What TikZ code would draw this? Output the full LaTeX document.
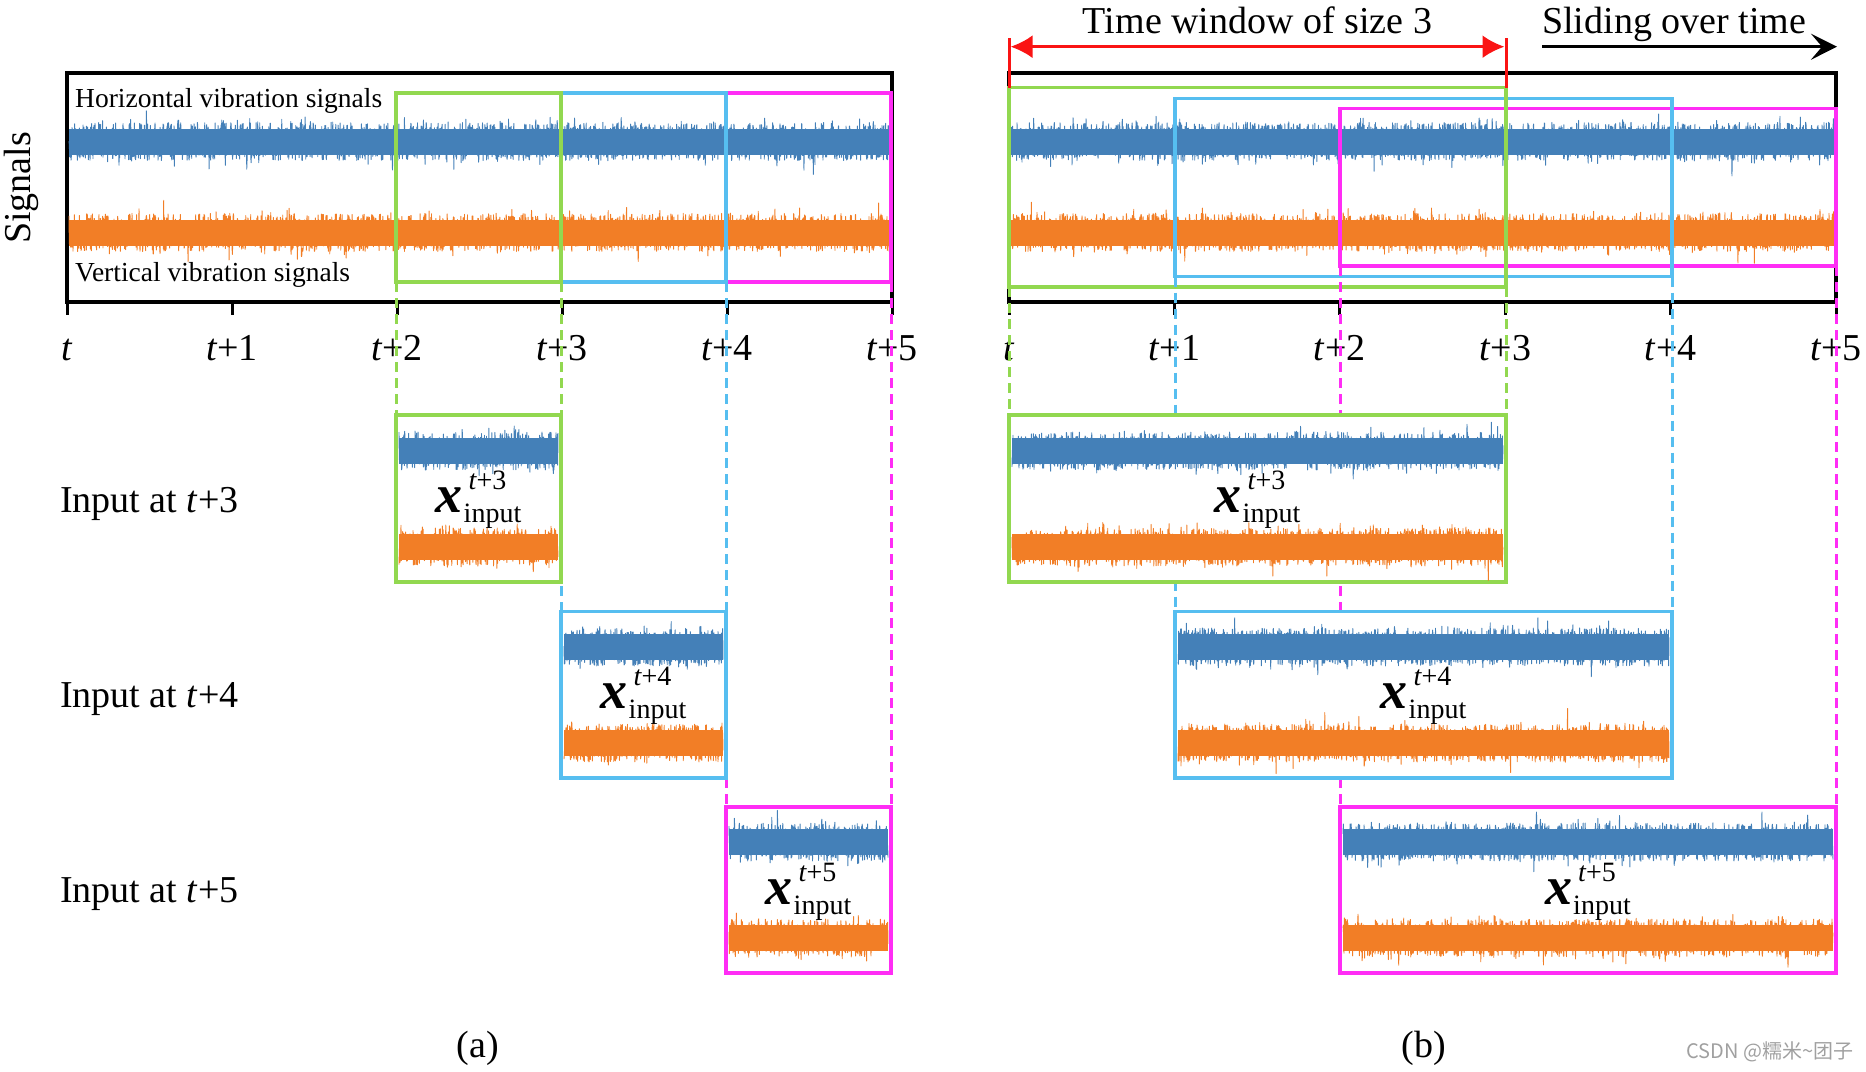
\documentclass[tikz,border=0pt]{standalone}
\usepackage{fontspec}
\setmainfont{Liberation Serif}
\newfontfamily\cjkfont{Noto Sans CJK SC}
\usetikzlibrary{arrows.meta}
\definecolor{sigblue}{RGB}{68,128,184}
\definecolor{sigorange}{RGB}{242,126,38}
\definecolor{wgreen}{RGB}{146,216,80}
\definecolor{wblue}{RGB}{86,190,240}
\definecolor{wmag}{RGB}{255,45,245}
\definecolor{wred}{RGB}{250,20,20}
\definecolor{wmark}{RGB}{160,160,160}
\newcommand{\ftL}{\fontsize{38}{44}\selectfont}
\newcommand{\ftM}{\fontsize{27.5}{30}\selectfont}
\newcommand{\sigband}[4]{%
  \pgfmathtruncatemacro{\ns}{(#2-#1)*3}%
  \fill[#4] (#1,#3-13) rectangle (#2,#3+13);%
  \draw[#4, line width=0.9pt, line join=round] plot[domain=#1:#2, samples=\ns]
    (\x,{#3+19*rand+(rnd>0.8)*7*rand+(rnd>0.97)*15*rand});%
}
\newcommand{\xin}[1]{{\fontsize{54}{54}\selectfont\bfseries\itshape x}\kern1pt\rlap{\kern5pt\raisebox{23pt}{\fontsize{28}{28}\selectfont\itshape t\upshape+#1}}\raisebox{-10pt}{\fontsize{28}{28}\selectfont input}}
\pgfdeclarelayer{front}
\pgfsetlayers{main,front}
\begin{document}
\begin{tikzpicture}[x=1pt,y=-1pt,
  frame/.style={draw=black, line width=4pt},
  tickln/.style={black, line width=3pt},
  winbox/.style={draw, line width=3.5pt, inner sep=0pt, outer sep=0pt},
  inbox/.style={draw, fill=white, line width=3.5pt, inner sep=0pt, outer sep=0pt},
  dashln/.style={line width=3pt, dash pattern=on 10pt off 6pt},
  ticklab/.style={anchor=base, font=\ftL, inner sep=0pt},
  biglab/.style={font=\ftL, inner sep=0pt},
  ]
\pgfmathsetseed{7}
\useasboundingbox (0,0) rectangle (1866,1071);

% ---------- frames and axes ----------
\draw[frame] (67,72.5) rectangle (891.5,302);
\draw[frame] (1009,72.5) rectangle (1836,302);
\foreach \k in {0,...,5} {
  \draw[tickln] (67+165*\k,302) -- (67+165*\k,315);
  \draw[tickln] (1009+165.4*\k,302) -- (1009+165.4*\k,315);
}

% ---------- top signals ----------
\sigband{69}{889}{141.5}{sigblue}
\sigband{69}{889}{232.5}{sigorange}
\sigband{1011}{1834}{141.5}{sigblue}
\sigband{1011}{1834}{232.5}{sigorange}

\node[anchor=base west, font=\ftM, inner sep=0pt] (hlab) at (75,107) {Horizontal vibration signals};
\node[anchor=base west, font=\ftM, inner sep=0pt] (vlab) at (75,281) {Vertical vibration signals};

% ---------- windows ----------
\node[winbox, draw=wmag,   minimum width=165pt, minimum height=189pt] (wa5) at (808.5,187.5) {};
\node[winbox, draw=wblue,  minimum width=165pt, minimum height=189pt] (wa4) at (643.5,187.5) {};
\node[winbox, draw=wgreen, minimum width=165pt, minimum height=189pt] (wa3) at (478.5,187.5) {};
\node[winbox, draw=wmag,   minimum width=496pt, minimum height=157.5pt] (wb5) at (1588,187.25) {};
\node[winbox, draw=wblue,  minimum width=497pt, minimum height=178pt] (wb4) at (1423.5,187.5) {};
\node[winbox, draw=wgreen, minimum width=497pt, minimum height=199.5pt] (wb3) at (1257.5,187.25) {};

% ---------- tick labels ----------
\node[ticklab] (ta0) at (67,360) {\textit{t}};
\node[ticklab] (ta1) at (232,360) {\textit{t}+1};
\node[ticklab] (ta2) at (397,360) {\textit{t}+2};
\node[ticklab] (ta3) at (562,360) {\textit{t}+3};
\node[ticklab] (ta4) at (727,360) {\textit{t}+4};
\node[ticklab] (ta5) at (892,360) {\textit{t}+5};
\node[ticklab] (tb0) at (1009,360) {\textit{t}};
\node[ticklab] (tb1) at (1174.4,360) {\textit{t}+1};
\node[ticklab] (tb2) at (1339.8,360) {\textit{t}+2};
\node[ticklab] (tb3) at (1505.2,360) {\textit{t}+3};
\node[ticklab] (tb4) at (1670.6,360) {\textit{t}+4};
\node[ticklab] (tb5) at (1836,360) {\textit{t}+5};

% ---------- input boxes (front layer) ----------
\begin{pgfonlayer}{front}
\node[inbox, draw=wgreen, minimum width=165pt, minimum height=167pt] (ia3) at (478.5,498.5) {};
\sigband{399}{558}{451}{sigblue}
\sigband{399}{558}{547}{sigorange}
\node[anchor=base, inner sep=0pt] (la3) at (478.5,512.5) {\xin{3}};

\node[inbox, draw=wblue, minimum width=165pt, minimum height=166.5pt] (ia4) at (643.5,694.75) {};
\sigband{564}{723}{647}{sigblue}
\sigband{564}{723}{743}{sigorange}
\node[anchor=base, inner sep=0pt] (la4) at (643.5,708.75) {\xin{4}};

\node[inbox, draw=wmag, minimum width=165pt, minimum height=166pt] (ia5) at (808.5,890) {};
\sigband{729}{888}{842}{sigblue}
\sigband{729}{888}{938}{sigorange}
\node[anchor=base, inner sep=0pt] (la5) at (808.5,904) {\xin{5}};

\node[inbox, draw=wgreen, minimum width=497pt, minimum height=167pt] (ib3) at (1257.5,498.5) {};
\sigband{1012}{1503}{451}{sigblue}
\sigband{1012}{1503}{547}{sigorange}
\node[anchor=base, inner sep=0pt] (lb3) at (1257.5,512.5) {\xin{3}};

\node[inbox, draw=wblue, minimum width=497pt, minimum height=166.5pt] (ib4) at (1423.5,694.75) {};
\sigband{1178}{1669}{647}{sigblue}
\sigband{1178}{1669}{743}{sigorange}
\node[anchor=base, inner sep=0pt] (lb4) at (1423.5,708.75) {\xin{4}};

\node[inbox, draw=wmag, minimum width=496pt, minimum height=166pt] (ib5) at (1588,890) {};
\sigband{1343}{1833}{842}{sigblue}
\sigband{1343}{1833}{938}{sigorange}
\node[anchor=base, inner sep=0pt] (lb5) at (1588,904) {\xin{5}};
\end{pgfonlayer}

% ---------- dashed connectors ----------
\draw[dashln, wmag]   (wa5.south west) -- (ia5.north west);
\draw[dashln, wmag]   (wa5.south east) -- (ia5.north east);
\draw[dashln, wblue]  (wa4.south west) -- (ia4.north west);
\draw[dashln, wblue]  (wa4.south east) -- (ia4.north east);
\draw[dashln, wgreen] (wa3.south west) -- (ia3.north west);
\draw[dashln, wgreen] (wa3.south east) -- (ia3.north east);
\draw[dashln, wmag]   (wb5.south west) -- (ib5.north west);
\draw[dashln, wmag]   (wb5.south east) -- (ib5.north east);
\draw[dashln, wblue]  (wb4.south west) -- (ib4.north west);
\draw[dashln, wblue]  (wb4.south east) -- (ib4.north east);
\draw[dashln, wgreen] (wb3.south west) -- (ib3.north west);
\draw[dashln, wgreen] (wb3.south east) -- (ib3.north east);

% ---------- top annotations (b) ----------
\coordinate (rtl) at (1009,38);
\coordinate (rtr) at (1506,38);
\coordinate (ral) at (1010.5,46.7);
\coordinate (rar) at (1504.5,46.7);
\draw[wred, line width=3pt] (rtl) -- (wb3.north west);
\draw[wred, line width=3pt] (rtr) -- (wb3.north east);
\draw[wred, line width=3pt, {Latex[length=22pt,width=23pt]}-{Latex[length=22pt,width=23pt]}] (ral) -- (rar);
\node[anchor=base, biglab] (twin) at (1257.5,33) {Time window of size 3};
\node[anchor=base west, biglab] (slide) at (1542,33) {Sliding over time};
\coordinate (sl) at (1542,46.7);
\coordinate (sr) at (1837,46.7);
\draw[black, line width=3.5pt, -{Stealth[length=26pt,width=26pt,inset=11pt]}] (sl) -- (sr);

% ---------- left labels and captions ----------
\node[biglab, rotate=90] (sig) at (21,188) {Signals};
\node[anchor=base west, biglab] (in3) at (60,512) {Input at \textit{t}+3};
\node[anchor=base west, biglab] (in4) at (60,707) {Input at \textit{t}+4};
\node[anchor=base west, biglab] (in5) at (60,902) {Input at \textit{t}+5};
\node[anchor=base, biglab] (capa) at (478,1057) {(a)};
\node[anchor=base, biglab] (capb) at (1424,1057) {(b)};
\node[font=\cjkfont\fontsize{20}{22}\selectfont, text=wmark, inner sep=0pt] (wm) at (1770,1052) {CSDN @糯米\textasciitilde 团子};
\end{tikzpicture}
\end{document}
